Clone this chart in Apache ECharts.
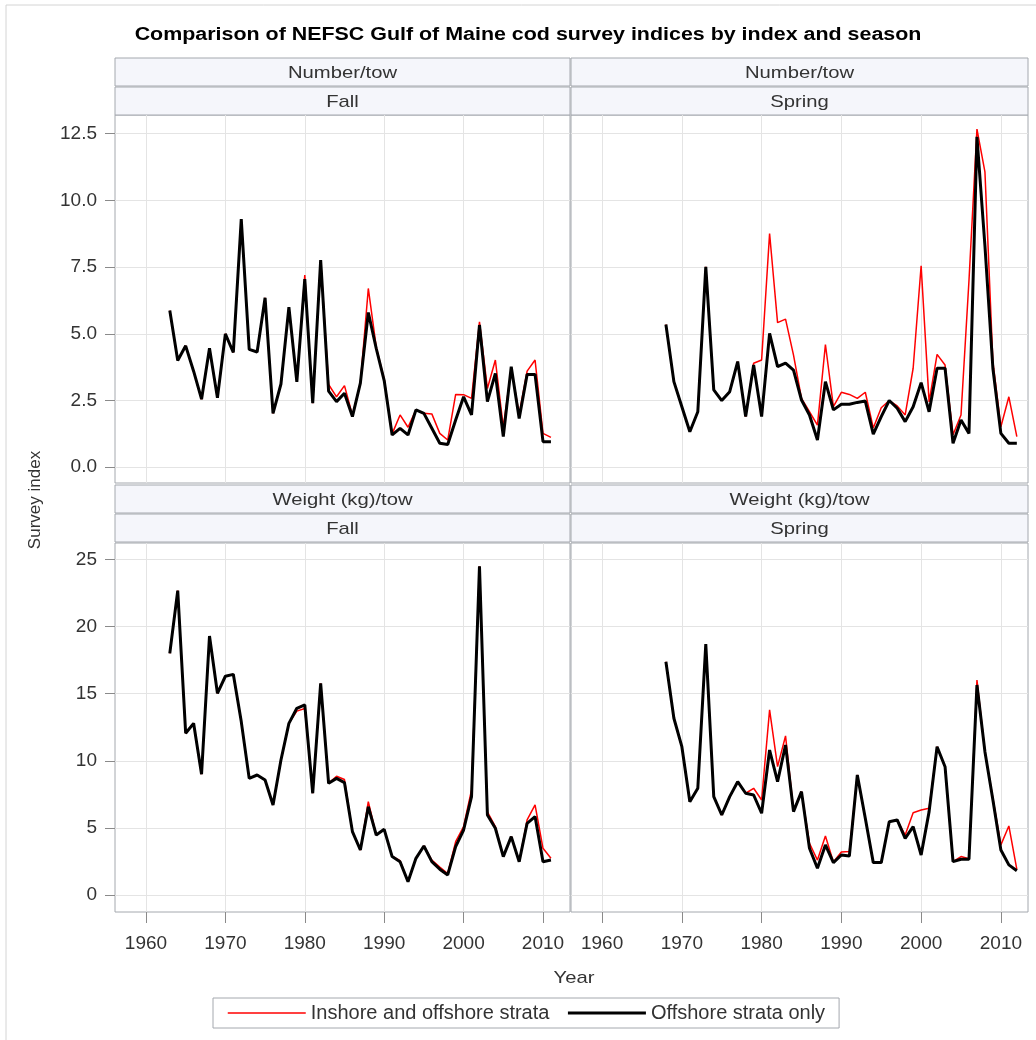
<!DOCTYPE html>
<html>
<head>
<meta charset="utf-8">
<script src="https://cdn.jsdelivr.net/npm/echarts@6/dist/echarts.min.js"></script>
<style>
html,body{margin:0;padding:0;background:#fff;}
#chart{width:1036px;height:1040px;}
</style>
</head>
<body>
<div id="chart"></div>
<script>
// ---------- data ----------
const fallYears = [1963,1964,1965,1966,1967,1968,1969,1970,1971,1972,1973,1974,1975,1976,1977,1978,1979,1980,1981,1982,1983,1984,1985,1986,1987,1988,1989,1990,1991,1992,1993,1994,1995,1996,1997,1998,1999,2000,2001,2002,2003,2004,2005,2006,2007,2008,2009,2010,2011];
const springYears = [1968,1969,1970,1971,1972,1973,1974,1975,1976,1977,1978,1979,1980,1981,1982,1983,1984,1985,1986,1987,1988,1989,1990,1991,1992,1993,1994,1995,1996,1997,1998,1999,2000,2001,2002,2003,2004,2005,2006,2007,2008,2009,2010,2011,2012];

// Number/tow, Fall
const numFallOffshore = [5.87,4.0,4.55,3.6,2.55,4.46,2.6,5.0,4.3,9.3,4.42,4.32,6.35,2.02,3.12,6.0,3.2,7.05,2.4,7.76,2.85,2.46,2.77,1.9,3.15,5.8,4.45,3.25,1.21,1.46,1.21,2.15,2.02,1.46,0.9,0.85,1.77,2.64,1.96,5.33,2.46,3.52,1.15,3.77,1.83,3.48,3.48,0.96,0.96];
const numFallAll = [5.87,4.0,4.55,3.6,2.55,4.46,2.6,5.0,4.3,9.3,4.42,4.32,6.35,2.02,3.12,6.0,3.2,7.2,2.4,7.76,3.1,2.64,3.06,1.95,3.15,6.7,4.5,3.3,1.25,1.96,1.5,2.15,2.02,2.0,1.27,1.02,2.73,2.72,2.58,5.45,2.95,4.02,1.5,3.7,2.0,3.6,4.02,1.27,1.12];

// Number/tow, Spring
const numSpringOffshore = [5.35,3.21,2.27,1.33,2.08,7.51,2.9,2.5,2.83,3.96,1.9,3.83,1.9,5.02,3.77,3.9,3.64,2.52,1.96,1.02,3.21,2.15,2.36,2.36,2.43,2.48,1.24,1.9,2.5,2.21,1.71,2.27,3.17,2.08,3.71,3.71,0.9,1.77,1.27,12.38,8.3,3.7,1.27,0.9,0.9];
const numSpringAll = [5.35,3.21,2.27,1.33,2.08,7.51,2.9,2.5,2.83,3.96,1.9,3.9,4.02,8.76,5.42,5.55,4.2,2.58,2.08,1.58,4.6,2.27,2.81,2.73,2.58,2.81,1.47,2.23,2.5,2.3,1.96,3.71,7.55,2.45,4.23,3.83,1.22,1.96,7.0,12.67,11.07,3.95,1.52,2.64,1.15];

// Weight (kg)/tow, Fall
const wtFallOffshore = [18.0,22.68,12.05,12.79,9.0,19.3,15.03,16.3,16.44,12.92,8.69,8.94,8.57,6.71,10.06,12.79,13.91,14.16,7.58,15.77,8.32,8.69,8.37,4.72,3.35,6.58,4.47,4.89,2.86,2.48,0.99,2.73,3.65,2.48,1.92,1.49,3.6,4.84,7.33,24.5,5.96,4.97,2.86,4.35,2.48,5.34,5.84,2.48,2.6];
const wtFallAll = [18.0,22.68,12.05,12.79,9.0,19.3,15.03,16.3,16.44,12.92,8.69,8.94,8.57,6.71,10.06,12.79,13.7,13.9,7.58,15.77,8.32,8.85,8.6,4.72,3.35,6.95,4.47,4.89,2.9,2.55,0.99,2.73,3.65,2.6,2.07,1.6,3.97,5.1,7.83,24.5,6.2,5.1,2.86,4.35,2.48,5.6,6.71,3.48,2.73];

// Weight (kg)/tow, Spring
const wtSpringOffshore = [17.38,13.17,11.05,6.95,7.95,18.7,7.33,5.96,7.33,8.44,7.58,7.45,6.09,10.8,8.44,11.18,6.21,7.7,3.48,1.99,3.73,2.41,2.98,2.9,8.94,5.71,2.41,2.41,5.46,5.59,4.22,5.09,2.98,6.21,11.05,9.56,2.48,2.66,2.66,15.65,10.68,7.08,3.35,2.24,1.81];
const wtSpringAll = [17.38,13.17,11.05,6.95,7.95,18.7,7.33,5.96,7.33,8.44,7.58,7.95,7.08,13.79,9.56,11.85,6.3,7.7,3.85,2.6,4.4,2.45,3.2,3.23,8.94,5.71,2.41,2.41,5.46,5.59,4.47,6.13,6.33,6.46,11.05,9.56,2.48,2.86,2.7,16.02,10.68,7.2,3.73,5.14,1.9];

const xTicks = [1960,1970,1980,1990,2000,2010];
const yTicksNum = [0,2.5,5,7.5,10,12.5];
const yTicksWt = [0,5,10,15,20,25];

const seriesNames = ['Inshore and offshore strata','Offshore strata only'];
const rowLabels = ['Number/tow','Weight (kg)/tow'];
const colLabels = ['Fall','Spring'];
const titleText = 'Comparison of NEFSC Gulf of Maine cod survey indices by index and season';

// ---------- layout ----------
const FONT = 'Liberation Sans';
const SX = 1.19; // horizontal stretch of the reference text
const panels = [
  {left:115, top:115, width:455, height:368, row:0, col:0},
  {left:571, top:115, width:457, height:368, row:0, col:1},
  {left:115, top:543, width:455, height:369, row:1, col:0},
  {left:571, top:543, width:457, height:369, row:1, col:1}
];
const panelData = [
  {years: fallYears, all: numFallAll, off: numFallOffshore},
  {years: springYears, all: numSpringAll, off: numSpringOffshore},
  {years: fallYears, all: wtFallAll, off: wtFallOffshore},
  {years: springYears, all: wtSpringAll, off: wtSpringOffshore}
];
const yRanges = [[-0.59, 13.2], [-1.27, 26.23]];

const grids = [], xAxes = [], yAxes = [], series = [];
const gridLineColor = '#e4e4e4';
const frameColor = '#a4a8ae';

panels.forEach((p, i) => {
  grids.push({left:p.left, top:p.top, width:p.width, height:p.height,
    show:true, borderColor:frameColor, borderWidth:1, backgroundColor:'#fff'});
  const bottomRow = p.row === 1;
  xAxes.push({
    type:'value', gridIndex:i, min:1956.1, max:2013.4, position:'bottom',
    axisLine:{show:false, onZero:false},
    axisTick:{show:bottomRow, inside:false, customValues:xTicks, length:11, lineStyle:{color:'#8a8a8a'}},
    axisLabel:{show:bottomRow, customValues:xTicks, margin:22, fontFamily:FONT, fontSize:19, color:'#333',
      formatter: v => String(Math.round(v))},
    splitLine:{show:true, lineStyle:{color:gridLineColor, width:1}}
  });
  const leftCol = p.col === 0;
  const yt = p.row === 0 ? yTicksNum : yTicksWt;
  yAxes.push({
    type:'value', gridIndex:i, min:yRanges[p.row][0], max:yRanges[p.row][1], position:'left',
    axisLine:{show:false, onZero:false},
    axisTick:{show:leftCol, inside:false, customValues:yt, length:10, lineStyle:{color:'#8a8a8a'}},
    axisLabel:{show:leftCol, customValues:yt, margin:18, fontFamily:FONT, fontSize:19, color:'#333',
      formatter: v => p.row === 0 ? Number(v).toFixed(1) : String(Math.round(v))},
    splitLine:{show:true, lineStyle:{color:gridLineColor, width:1}}
  });
  const d = panelData[i];
  series.push({
    name: seriesNames[0], type:'line', xAxisIndex:i, yAxisIndex:i,
    data: d.years.map((y, k) => [y, d.all[k]]),
    symbol:'none', lineStyle:{color:'#ff0000', width:1.5}, itemStyle:{color:'#ff0000'},
    z:2
  });
  series.push({
    name: seriesNames[1], type:'line', xAxisIndex:i, yAxisIndex:i,
    data: d.years.map((y, k) => [y, d.off[k]]),
    symbol:'none', lineStyle:{color:'#000000', width:3}, itemStyle:{color:'#000000'},
    z:3
  });
});

// strips and free text
const graphics = [];
graphics.push({type:'rect', shape:{x:6, y:5, width:1040, height:1040}, style:{fill:'none', stroke:'#d4d4d4', lineWidth:1}, silent:true});
graphics.push({type:'text', x:528, y:35, scaleX:SX, scaleY:1,
  style:{text:titleText, font:'bold 18px "' + FONT + '"', fill:'#000', align:'center', verticalAlign:'middle'}});
panels.forEach(p => {
  const stripTop1 = p.row === 0 ? 58 : 485;
  const stripH = 28;
  [[rowLabels[p.row], stripTop1], [colLabels[p.col], stripTop1 + stripH + 1]].forEach(([txt, top]) => {
    graphics.push({type:'rect', shape:{x:p.left, y:top, width:p.width, height:stripH},
      style:{fill:'#f5f6fb', stroke:frameColor, lineWidth:1}, silent:true});
    graphics.push({type:'text', x:p.left + p.width/2, y:top + stripH/2 + 1, scaleX:SX, scaleY:1,
      style:{text:txt, font:'17px "' + FONT + '"', fill:'#333', align:'center', verticalAlign:'middle'}});
  });
});
graphics.push({type:'text', x:35, y:500, rotation:Math.PI/2,
  style:{text:'Survey index', font:'17px "' + FONT + '"', fill:'#333', align:'center', verticalAlign:'middle'}});
graphics.push({type:'text', x:574, y:978, scaleX:SX, scaleY:1,
  style:{text:'Year', font:'17px "' + FONT + '"', fill:'#333', align:'center', verticalAlign:'middle'}});

const option = {
  animation:false,
  backgroundColor:'#fff',
  grid: grids,
  xAxis: xAxes,
  yAxis: yAxes,
  series: series,
  legend: {
    data: [
      {name: seriesNames[0], itemStyle:{opacity:0}, lineStyle:{width:1.5, color:'#ff0000'}},
      {name: seriesNames[1], itemStyle:{opacity:0}, lineStyle:{width:3, color:'#000000'}}
    ],
    left:213, top:998,
    padding:[5,14], itemGap:17, itemWidth:78, itemHeight:14,
    borderColor:'#a4a8ae', borderWidth:1,
    textStyle:{fontFamily:FONT, fontSize:20, color:'#333'}
  },
  graphic: graphics
};
const chart = echarts.init(document.getElementById('chart'), null, {renderer:'canvas'});
chart.setOption(option);
</script>
</body>
</html>
